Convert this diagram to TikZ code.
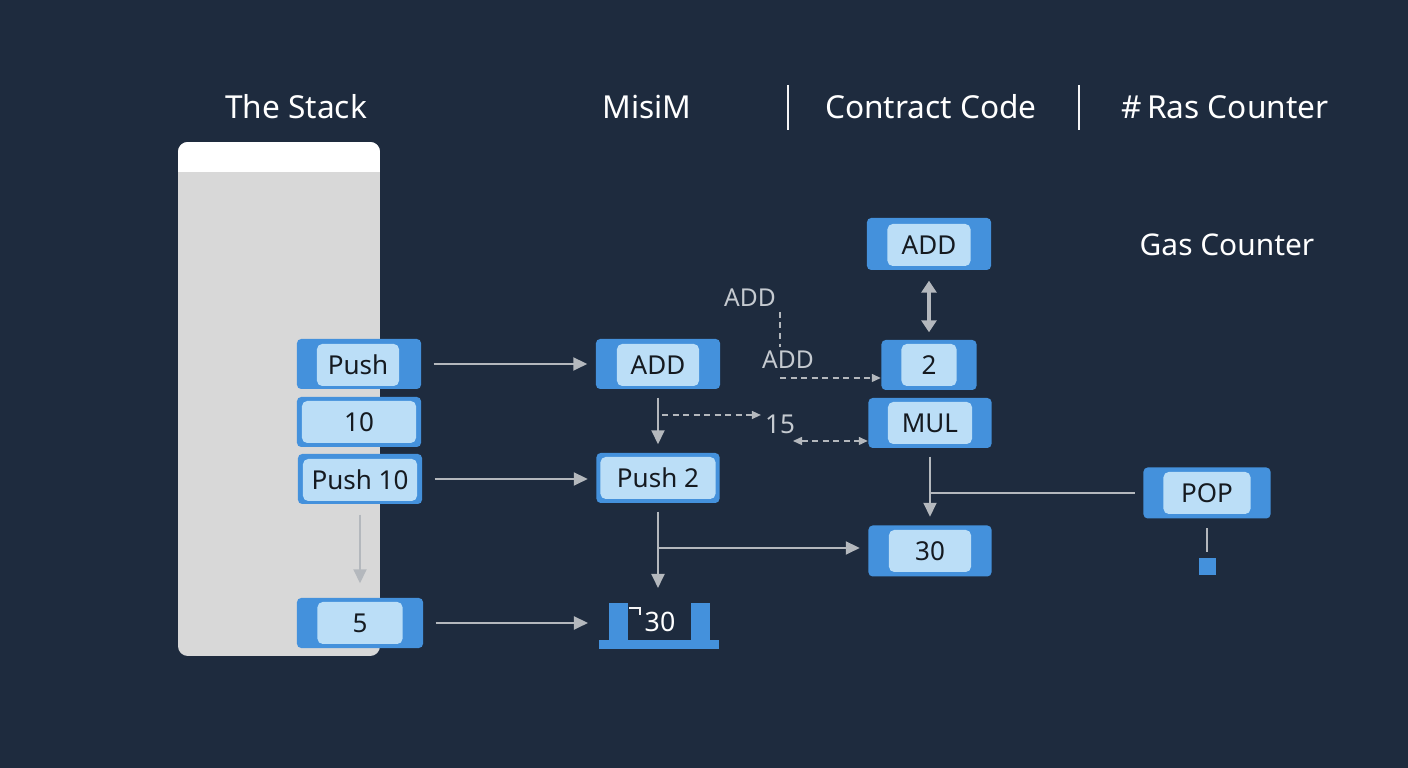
\documentclass[tikz,border=0pt]{standalone}
\usepackage{fontspec}
\setmainfont{Noto Sans}
\usepackage{xcolor}
\usetikzlibrary{calc,arrows.meta,positioning}
\definecolor{bgnavy}{HTML}{1E2B3E}
\definecolor{stackgray}{HTML}{D8D8D8}
\definecolor{opblue}{HTML}{4491DC}
\definecolor{celblue}{HTML}{BBDEF7}
\definecolor{ink}{HTML}{151A20}
\definecolor{lngray}{HTML}{B4B8BD}
\definecolor{dimtext}{HTML}{C5CAD0}
\tikzset{
  opbox/.style={fill=opblue, rounded corners=1.2pt, inner sep=0pt,
    minimum width=1.24cm, minimum height=0.5cm},
  cell/.style={fill=celblue, rounded corners=1.5pt, inner sep=0pt, text=ink,
    minimum height=0.42cm, font=\fontsize{7.4}{9}\selectfont},
  head/.style={text=white, font=\fontsize{9}{11}\selectfont},
  dimlbl/.style={text=dimtext, font=\fontsize{7}{9}\selectfont, inner sep=1pt},
  arr/.style={-{Triangle[length=1.4mm,width=1.3mm]}, draw=lngray, line width=0.2mm},
  ln/.style={draw=lngray, line width=0.2mm},
  darr/.style={-{Triangle[length=0.9mm,width=0.8mm]}, draw=lngray, line width=0.14mm,
    dash pattern=on 0.6mm off 0.45mm},
  ddarr/.style={darr, {Triangle[length=0.9mm,width=0.8mm]}-{Triangle[length=0.9mm,width=0.8mm]}},
  dln/.style={draw=lngray, line width=0.14mm, dash pattern=on 0.6mm off 0.45mm},
  sep/.style={draw=white!85!lngray, line width=0.2mm}
}

\begin{document}
\begin{tikzpicture}[x=0.01cm, y=-0.01cm]
  \fill[bgnavy] (0,0) rectangle (1408,768);
  \useasboundingbox (0,0) rectangle (1408,768);

  \node[head] (hstack) at (296,107) {The Stack};
  \node[head] (hmisim) at (647,107) {MisiM};
  \node[head] (hcode) at (931,107) {Contract Code};
  \node[head] (hgas) at (1225,107) {\#\,Ras Counter};
  \draw[sep] (788,85) -- (788,130);
  \draw[sep] (1079,85) -- (1079,130);
  \node[text=white, font=\fontsize{8.5}{10}\selectfont] (gas) at (1227,245) {Gas Counter};

  \begin{scope}
    \clip[rounded corners=2.8pt] (178,142) rectangle (380,656);
    \fill[stackgray] (178,142) rectangle (380,656);
    \fill[white] (178,142) rectangle (380,172);
  \end{scope}

  \node[opbox] (push-o) at (359,364) {};
  \node[cell, minimum width=0.82cm] (push) at (358,365) {Push};
  \node[opbox] (ten-o) at (359,422) {};
  \node[cell, minimum width=1.14cm] (ten) at (359,422) {10};
  \node[opbox] (push10-o) at (360,479) {};
  \node[cell, minimum width=1.14cm] (push10) at (360,480) {Push 10};
  \node[opbox, minimum width=1.26cm] (five-o) at (360,623) {};
  \node[cell, minimum width=0.85cm] (five) at (360,623) {5};

  \node[opbox] (addm-o) at (658,364) {};
  \node[cell, minimum width=0.82cm] (addm) at (658,365) {ADD};
  \node[opbox, minimum width=1.23cm] (push2-o) at (658,478) {};
  \node[cell, minimum width=1.15cm] (push2) at (658,478) {Push 2};

  \node[opbox, minimum height=0.52cm] (addc-o) at (929,244) {};
  \node[cell, minimum width=0.83cm] (addc) at (929,245) {ADD};
  \node[opbox, minimum width=0.95cm] (two-o) at (929,365) {};
  \node[cell, minimum width=0.55cm] (two) at (929,365) {2};
  \node[opbox, minimum width=1.23cm] (mul-o) at (930,423) {};
  \node[cell, minimum width=0.84cm] (mul) at (930,423) {MUL};
  \node[opbox, minimum width=1.23cm, minimum height=0.51cm] (thirty-o) at (930,551) {};
  \node[cell, minimum width=0.82cm] (thirty) at (930,551) {30};

  \node[opbox, minimum width=1.27cm, minimum height=0.51cm] (pop-o) at (1207,493) {};
  \node[cell, minimum width=0.87cm] (pop) at (1207,493) {POP};
  \node[fill=opblue, minimum size=0.17cm, inner sep=0pt] (sq) at (1207,567) {};

  \fill[opblue] (599,640) rectangle (719,649);
  \fill[opblue] (609,603) rectangle (628,641);
  \fill[opblue] (691,603) rectangle (710,641);
  \draw[white!85!lngray, line width=0.2mm] (629,608) -- (640,608) -- (640,615);
  \node[text=white, font=\fontsize{7.6}{9}\selectfont] (b30) at (660,622) {30};
  \coordinate (bkw) at (599,623);
  \coordinate (bkn) at (658,603);

  \node[dimlbl] (add1) at (750,298) {ADD};
  \node[dimlbl] (add2) at (788,360) {ADD};
  \node[dimlbl, font=\fontsize{7.4}{9}\selectfont] (n15) at (780,424) {15};

  \draw[arr, shorten <=1.2mm, shorten >=0.8mm] (push-o.east) -- (addm-o.west);
  \draw[arr, shorten <=1.2mm, shorten >=0.8mm] (push10-o.east) -- (push10-o.east -| push2-o.west);
  \draw[arr, shorten <=1.2mm, shorten >=1.1mm] (five-o.east) -- (bkw);
  \draw[arr, shorten <=1mm, shorten >=1.4mm] (push10-o.south) -- (five-o.north);
  \draw[arr, shorten <=0.8mm, shorten >=0.8mm] (addm-o.south) -- (push2-o.north);
  \draw[arr, shorten <=0.8mm, shorten >=1.5mm] (push2-o.south) -- (bkn);
  \draw[arr, shorten >=0.8mm] (push2-o.south |- 0,548) -- (thirty-o.west |- 0,548);
  \draw[{Triangle[length=1.2mm,width=1.5mm]}-{Triangle[length=1.2mm,width=1.5mm]},
    draw=lngray, line width=0.4mm, shorten <=1mm, shorten >=0.7mm] (addc-o.south) -- (two-o.north);
  \draw[arr, shorten <=0.8mm, shorten >=0.8mm] (mul-o.south) -- (thirty-o.north);
  \draw[ln, shorten >=0.8mm] (mul-o.south |- pop-o.west) -- (pop-o.west);
  \draw[ln, shorten <=0.9mm, shorten >=0.6mm] (pop-o.south) -- (sq.north);

  \coordinate (d0) at (780,312);
  \draw[dln] (d0) -- (d0 |- add2.north);
  \coordinate (d1) at (780,378);
  \draw[darr] (d1) -- (d1 -| two-o.west);
  \coordinate (d2) at (662,415);
  \draw[darr] (d2) -- (d2 -| n15.west);
  \coordinate (d3) at (793,441);
  \draw[ddarr] (d3) -- (d3 -| mul-o.west);
\end{tikzpicture}
\end{document}
